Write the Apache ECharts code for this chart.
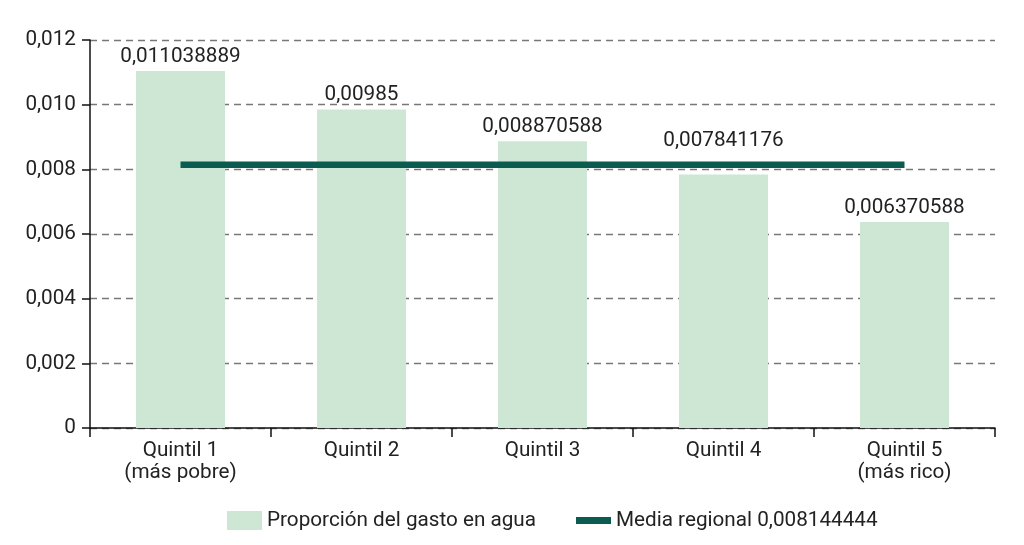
<!DOCTYPE html>
<html>
<head>
<meta charset="utf-8">
<script src="https://cdn.jsdelivr.net/npm/echarts@6/dist/echarts.min.js"></script>
<style>html,body{margin:0;padding:0;background:#fff}#c{width:1024px;height:545px}</style>
</head>
<body>
<div id="c"></div>
<script>
const categories = ['Quintil 1\n(más pobre)', 'Quintil 2', 'Quintil 3', 'Quintil 4', 'Quintil 5\n(más rico)'];
const shareValues = [0.011038889, 0.00985, 0.008870588, 0.007841176, 0.006370588];
const regionalMean = 0.008144444;
const yTicks = { min: 0, max: 0.012, interval: 0.002 };
const barName = 'Proporción del gasto en agua';
const lineName = 'Media regional ' + String(regionalMean).replace('.', ',');

const FONT = 'Roboto';
const FS = 20.7;
const chart = echarts.init(document.getElementById('c'));
chart.setOption({
  animation: false,
  textStyle: { fontFamily: FONT },
  grid: { left: 90, right: 29, top: 40, bottom: 117 },
  legend: {
    left: 222, top: 505,
    itemWidth: 35, itemHeight: 19, itemGap: 40,
    textStyle: { fontFamily: FONT, fontSize: FS, color: '#222' },
    data: [
      { name: barName, icon: 'rect' },
      { name: lineName, icon: 'path://M0,0L32,0L32,6.5L0,6.5Z' }
    ]
  },
  xAxis: {
    type: 'category',
    data: categories,
    axisLine: { lineStyle: { color: '#111', width: 1.5 } },
    axisTick: { show: true, length: 9, lineStyle: { color: '#111', width: 1.5 } },
    axisLabel: { fontFamily: FONT, fontSize: FS, color: '#222', margin: 12, lineHeight: 22 }
  },
  yAxis: {
    type: 'value',
    min: yTicks.min, max: yTicks.max, interval: yTicks.interval,
    axisLine: { show: true, lineStyle: { color: '#111', width: 1.5 } },
    axisTick: { show: true, length: 8, lineStyle: { color: '#111', width: 1.5 } },
    axisLabel: {
      fontFamily: FONT, fontSize: FS, color: '#222', margin: 14,
      formatter: v => v === 0 ? '0' : v.toFixed(3).replace('.', ',')
    },
    splitLine: { show: true, lineStyle: { color: '#777', width: 1.3, type: [7, 5] } }
  },
  series: [
    {
      name: barName,
      type: 'bar',
      data: shareValues.map((v, i) => i === 3 ? { value: v, label: { distance: 23 } } : v),
      barWidth: 89,
      itemStyle: { color: '#cee7d5' },
      label: {
        show: true, position: 'top', distance: 4,
        fontFamily: FONT, fontSize: FS, color: '#222',
        formatter: p => String(p.value).replace('.', ',')
      }
    },
    {
      name: lineName,
      type: 'line',
      data: categories.map(() => regionalMean),
      symbol: 'none',
      lineStyle: { color: '#0a5c50', width: 6.5, cap: 'butt' },
      itemStyle: { color: '#0a5c50' },
      z: 5
    }
  ]
});
</script>
</body>
</html>
